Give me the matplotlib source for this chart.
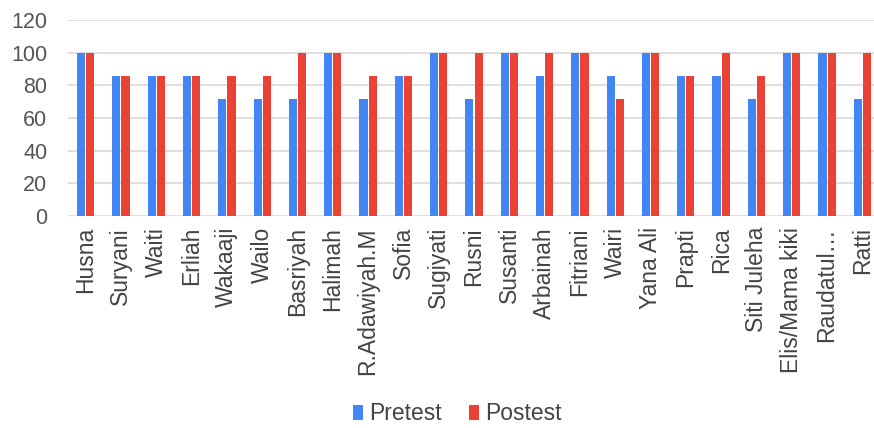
import matplotlib.pyplot as plt
import numpy as np

names = ['Husna', 'Suryani', 'Waiti', 'Erliah', 'Wakaaji', 'Wailo', 'Basriyah',
         'Halimah', 'R.Adawiyah.M', 'Sofia', 'Sugiyati', 'Rusni', 'Susanti',
         'Arbainah', 'Fitriani', 'Wairi', 'Yana Ali', 'Prapti', 'Rica',
         'Siti Juleha', 'Elis/Mama kiki', 'Raudatul…', 'Ratti']
pretest = [100, 85.7, 85.7, 85.7, 71.4, 71.4, 71.4, 100, 71.4, 85.7, 100, 71.4,
           100, 85.7, 100, 85.7, 100, 85.7, 85.7, 71.4, 100, 100, 71.4]
postest = [100, 85.7, 85.7, 85.7, 85.7, 85.7, 100, 100, 85.7, 85.7, 100, 100,
           100, 100, 100, 71.4, 100, 85.7, 100, 85.7, 100, 100, 100]

plt.rcParams['font.family'] = ['Liberation Sans', 'DejaVu Sans']

fig = plt.figure(figsize=(8.74, 4.28), dpi=100)
ax = fig.add_axes([68 / 874, 1 - 216 / 428, 812 / 874, 196 / 428])

x = np.arange(len(names))
w = 0.23
ax.bar(x - w / 2 - 0.015, pretest, w, color='#4285F4', label='Pretest', zorder=3)
ax.bar(x + w / 2 + 0.015, postest, w, color='#EA4335', label='Postest', zorder=3)

ax.set_xlim(-0.5, len(names) - 0.5)
ax.set_ylim(0, 120)
ax.set_yticks(range(0, 121, 20))
ax.yaxis.grid(True, color='#d9d9d9', linewidth=1.2, zorder=0)
ax.set_xticks(x)
ax.set_xticklabels(names, rotation=90, fontsize=16.5, color='#444444')
ax.tick_params(axis='y', labelsize=15.5, labelcolor='#555555', length=0, pad=15)
ax.tick_params(axis='x', length=0, pad=8)
for s in ax.spines.values():
    s.set_visible(False)

ax.legend(loc='center', bbox_to_anchor=(457 / 874, 14 / 428),
          bbox_transform=fig.transFigure, ncol=2, frameon=False, fontsize=16.5,
          handlelength=0.45, handleheight=0.6, handletextpad=0.25, columnspacing=1.2,
          labelcolor='#444444')

fig.savefig('out.png', dpi=100)
